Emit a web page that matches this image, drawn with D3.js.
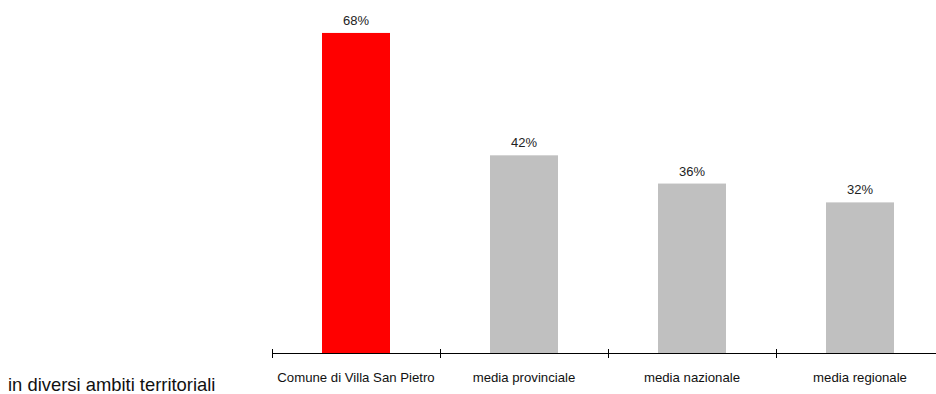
<!DOCTYPE html>
<html><head><meta charset="utf-8">
<script src="https://cdn.jsdelivr.net/npm/d3@7"></script>
<style>body{margin:0;background:#fff}svg{display:block;font-family:"Liberation Sans",Arial,sans-serif}</style>
</head><body>
<svg id="c" width="936" height="394"></svg>
<script>
const categories = ["Comune di Villa San Pietro","media provinciale","media nazionale","media regionale",""];
const values = [68,42,36,32];
const valueLabels = ["68%","42%","36%","32%"];
const colors = ["#ff0000","#c0c0c0","#c0c0c0","#c0c0c0"];
const footnote = "in diversi ambiti territoriali";

const svg = d3.select("#c");
const baseY = 353;
const xb = d3.scaleBand().domain(categories).range([272, 1112]);
const y = d3.scaleLinear().domain([0, 75]).range([baseY, 0]);
const barW = 68;

// bars
svg.selectAll("rect.bar").data(values).enter().append("rect")
  .attr("class","bar")
  .attr("x",(d,i)=>xb(categories[i]) + (xb.bandwidth()-barW)/2)
  .attr("width",barW)
  .attr("y",d=>y(d))
  .attr("height",d=>baseY-y(d))
  .attr("fill",(d,i)=>colors[i]);

// value labels
svg.selectAll("text.val").data(values).enter().append("text")
  .attr("class","val")
  .attr("x",(d,i)=>xb(categories[i]) + xb.bandwidth()/2)
  .attr("y",d=>y(d)-8)
  .attr("text-anchor","middle")
  .attr("font-size",13)
  .attr("fill","#222")
  .text((d,i)=>valueLabels[i]);

// axis line and ticks at band boundaries
const axis = d3.axisBottom(xb).tickSize(0).tickFormat("");
const g = svg.append("g").attr("transform",`translate(0,${baseY})`).call(axis);
g.select(".domain").remove();
svg.append("line").attr("x1",272).attr("x2",936).attr("y1",baseY+0.5).attr("y2",baseY+0.5).attr("stroke","#000");
svg.selectAll("line.tk").data(categories).enter().append("line")
  .attr("x1",d=>xb(d)+0.5).attr("x2",d=>xb(d)+0.5)
  .attr("y1",baseY-4).attr("y2",baseY+5)
  .attr("stroke","#000");

// category labels
svg.selectAll("text.cat").data(categories.slice(0,4)).enter().append("text")
  .attr("class","cat")
  .attr("x",d=>xb(d)+xb.bandwidth()/2)
  .attr("y",382)
  .attr("text-anchor","middle")
  .attr("font-size",13.2)
  .attr("fill","#111")
  .text(d=>d);

svg.append("text").attr("x",8).attr("y",391).attr("font-size",18.4).attr("fill","#111").text(footnote);
</script>
</body></html>
